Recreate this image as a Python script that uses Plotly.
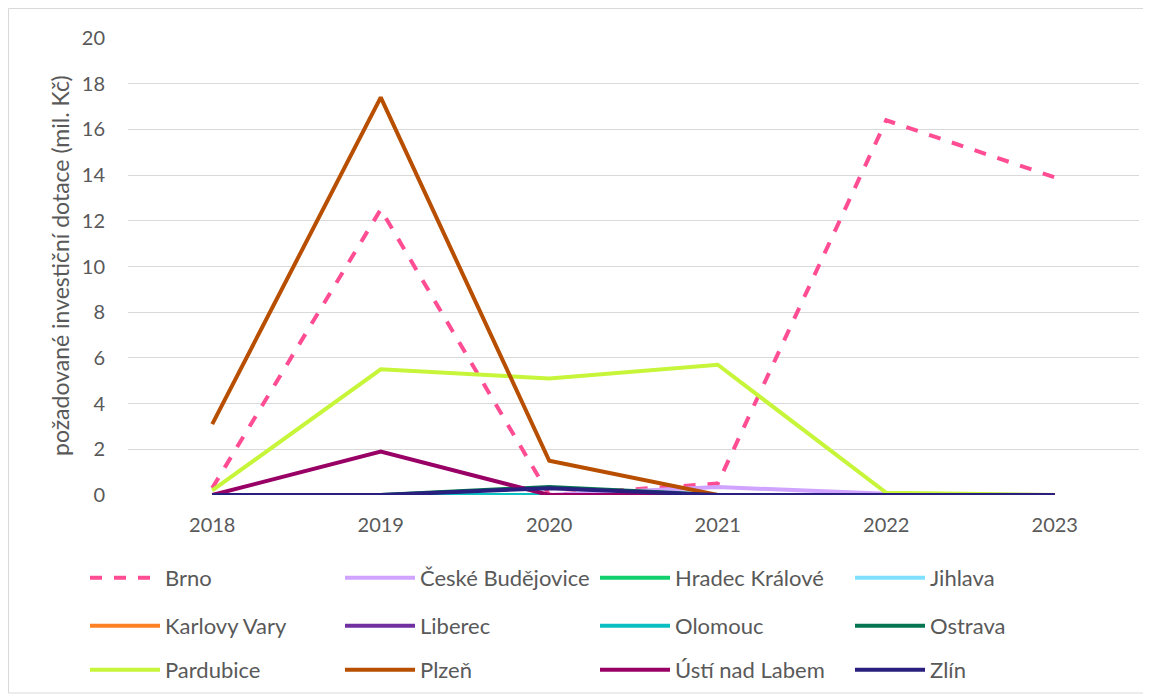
import plotly.graph_objects as go

years = ["2018", "2019", "2020", "2021", "2022", "2023"]

brno = [0.3, 12.5, 0.0, 0.5, 16.4, 13.9]
ceske_budejovice = [0.0, 0.0, 0.0, 0.35, 0.05, 0.0]
hradec_kralove = [0.0, 0.0, 0.0, 0.0, 0.0, 0.0]
jihlava = [0.0, 0.0, 0.0, 0.0, 0.0, 0.0]
karlovy_vary = [0.0, 0.0, 0.0, 0.0, 0.0, 0.0]
liberec = [0.0, 0.0, 0.0, 0.0, 0.0, 0.0]
olomouc = [0.0, 0.0, 0.0, 0.0, 0.0, 0.0]
ostrava = [0.0, 0.0, 0.35, 0.0, 0.0, 0.0]
pardubice = [0.2, 5.5, 5.1, 5.7, 0.1, 0.0]
plzen = [3.1, 17.4, 1.5, 0.0, 0.0, 0.0]
usti = [0.0, 1.9, 0.0, 0.0, 0.0, 0.0]
zlin = [0.0, 0.0, 0.3, 0.0, 0.0, 0.0]

series = [
    ("Brno", brno, "#FF4D94", "dash"),
    ("České Budějovice", ceske_budejovice, "#CFA3FF", "solid"),
    ("Hradec Králové", hradec_kralove, "#12CF6E", "solid"),
    ("Jihlava", jihlava, "#80E0FF", "solid"),
    ("Karlovy Vary", karlovy_vary, "#FF8124", "solid"),
    ("Liberec", liberec, "#7030A0", "solid"),
    ("Olomouc", olomouc, "#0ABFC2", "solid"),
    ("Ostrava", ostrava, "#047550", "solid"),
    ("Pardubice", pardubice, "#C6F53A", "solid"),
    ("Plzeň", plzen, "#B84F00", "solid"),
    ("Ústí nad Labem", usti, "#990066", "solid"),
    ("Zlín", zlin, "#281F7E", "solid"),
]

y_title = "požadované investiční dotace (mil. Kč)"

FONT = "Lato"
GREY = "#595959"

# page body adds an 8px margin, so the figure is 8px smaller and shifted
OFF = 8
W, H = 1151 - OFF, 699 - OFF
# plot area on the page: x 128..1139, y 38..495
ml, mt = 128 - OFF, 38 - OFF
mr, mb = W - (1139 - OFF), H - (495 - OFF)
pw, ph = W - ml - mr, H - mt - mb


def px(x):
    return (x - OFF - ml) / pw


def py(y):
    return (H - mb - (y - OFF)) / ph


# legend grid on the page: 4 columns x 3 rows
leg_cols = [85, 340, 595, 850]
leg_rows = [578, 626, 670]

fig = go.Figure()
legend_layout = {}
for i, (name, vals, color, dash) in enumerate(series):
    key = "legend" if i == 0 else f"legend{i + 1}"
    fig.add_trace(
        go.Scatter(
            x=years,
            y=vals,
            mode="lines",
            name=name,
            line={"color": color, "width": 4, "dash": dash},
            legend=key,
        )
    )
    legend_layout[key] = dict(
        xref="container",
        yref="container",
        xanchor="left",
        yanchor="middle",
        x=(leg_cols[i % 4] - OFF) / W,
        y=1 - (leg_rows[i // 4] - OFF) / H,
        font={"family": FONT, "size": 22, "color": GREY},
        bgcolor="rgba(0,0,0,0)",
        itemwidth=70,
    )

fig.update_layout(
    width=W,
    height=H,
    margin={"l": ml, "r": mr, "t": mt, "b": mb, "autoexpand": False},
    paper_bgcolor="white",
    plot_bgcolor="white",
    font={"family": FONT, "color": GREY},
    showlegend=True,
    **legend_layout,
    xaxis={
        "type": "category",
        "showgrid": False,
        "showline": False,
        "ticks": "",
        "ticklabelstandoff": 16,
        "tickfont": {"size": 20, "color": GREY},
        "range": [-0.5, 5.5],
    },
    yaxis={
        "range": [0, 20],
        "dtick": 2,
        "showgrid": True,
        "gridcolor": "#D9D9D9",
        "gridwidth": 1,
        "zeroline": False,
        "ticks": "",
        "ticklabelstandoff": 22,
        "tickfont": {"size": 20, "color": GREY},
    },
    annotations=[
        {
            "text": y_title,
            "xref": "paper",
            "yref": "paper",
            "x": px(60),
            "y": py(266),
            "xanchor": "center",
            "yanchor": "middle",
            "textangle": -90,
            "showarrow": False,
            "font": {"family": FONT, "size": 23, "color": GREY},
        }
    ],
    shapes=[
        {
            "type": "rect",
            "xref": "paper",
            "yref": "paper",
            "x0": px(8.5),
            "x1": px(1144),
            "y0": py(693),
            "y1": py(8.5),
            "line": {"color": "#D9D9D9", "width": 1},
            "fillcolor": "rgba(0,0,0,0)",
            "layer": "below",
        }
    ],
)

fig.write_html("out.html")
